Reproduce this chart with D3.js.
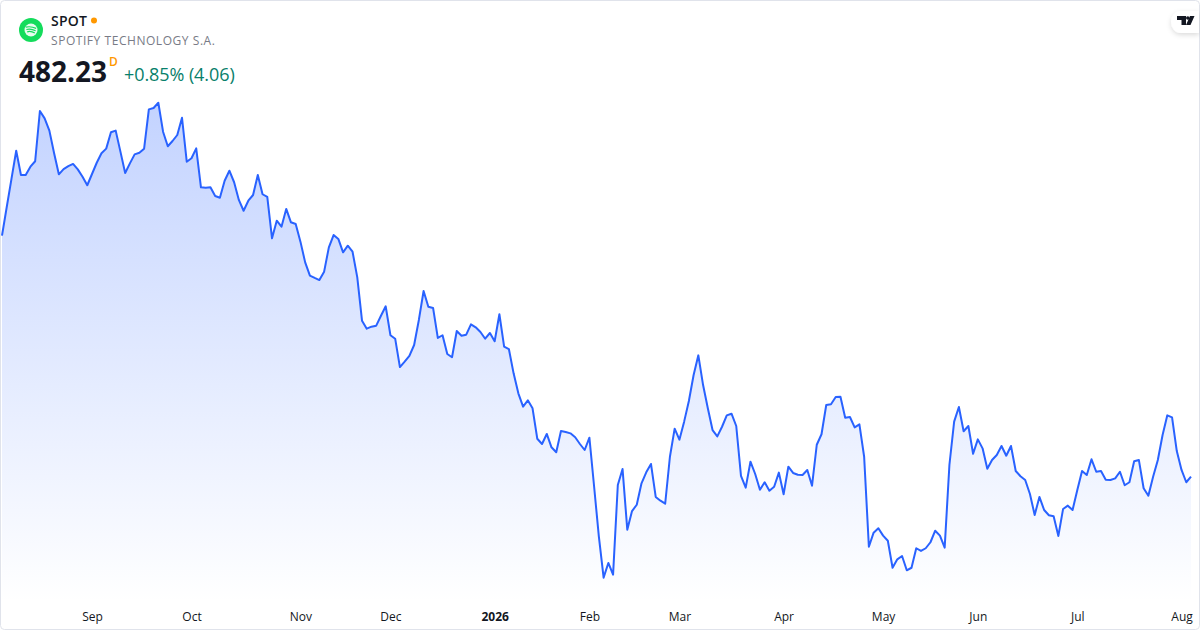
<!DOCTYPE html>
<html>
<head>
<meta charset="utf-8">
<title>SPOT</title>
<script src="https://cdn.jsdelivr.net/npm/d3@7"></script>
<style>
html, body { margin: 0; padding: 0; background: #fff; }
svg { display: block; font-family: "Open Sans", "Noto Sans", sans-serif; }
</style>
</head>
<body>
<script>
var WIDTH = 1200; //size of the screenshot
var HEIGHT = 630;

var SYMBOL = "SPOT";
var COMPANY = "SPOTIFY TECHNOLOGY S.A.";
var LAST = "482.23";
var INTERVAL = "D";
var CHANGE = "+0.85% (4.06)";

//daily closes, one per trading day
var closes = [
  642.9, 662, 680.7, 699.5, 683.3, 683.3, 688.9, 692.5, 726, 721.1,
  712.9, 697.8, 683.8, 687.3, 689.3, 690.7, 687.1, 682.2, 676.5, 684,
  691.5, 697.8, 700.9, 711.8, 712.9, 698.9, 684.7, 691.1, 697.1, 698.2,
  700.9, 727.1, 728, 731.5, 712.2, 702.5, 706, 710, 721.5, 692.2,
  694.5, 701.1, 675.1, 674.9, 675.1, 669.3, 668.2, 679.5, 686.2, 678.5,
  666.7, 659.5, 666.2, 670, 683.3, 670.5, 668.7, 641.1, 652.9, 648.9,
  660.7, 651.8, 650.7, 638.9, 625.1, 616.2, 614.7, 613.3, 618.9, 635.1,
  643.3, 640.7, 631.8, 636.2, 632.2, 615.1, 586.2, 580.9, 582.2, 582.9,
  589.5, 595.8, 576.5, 574.2, 555.3, 558.9, 562.7, 570, 586.7, 606,
  595.5, 594.7, 574.7, 576.5, 564, 561.8, 579.3, 576.2, 576.9, 583.8,
  581.8, 578.7, 574.2, 578, 572.5, 590.5, 568.9, 567.3, 551.1, 537.8,
  528.9, 533.1, 527.8, 507.5, 504, 510.7, 501.8, 498.5, 512.7, 512,
  511.1, 508.5, 504, 500, 508.2, 475.5, 442.2, 414.9, 424.7, 416.9,
  476.7, 487.3, 446.9, 459.3, 463.5, 477.8, 485.1, 490.7, 468.7, 466.2,
  464.2, 495.5, 514.2, 506.9, 518.9, 532.7, 550, 563.1, 543.3, 527.8,
  513.3, 509.1, 515.5, 523.1, 524.2, 516, 482.7, 474.9, 492.2, 484,
  473.5, 478.5, 472.9, 475.5, 484.9, 470.5, 488.9, 484.7, 483.5, 483.3,
  486.7, 476.2, 503.5, 510.5, 530, 530.5, 535.3, 535.5, 521.5, 522,
  515.1, 517.1, 495.5, 435.5, 444.9, 447.8, 442.9, 439.5, 421.5, 427.1,
  429.3, 419.8, 421.5, 434.5, 432.7, 434.5, 438.5, 446.2, 442.9, 434.9,
  490, 518.9, 528.7, 512.5, 516, 497.5, 507.1, 501.1, 487.5, 493.3,
  496.7, 502.7, 496.2, 502.7, 486, 482.5, 480, 470.7, 456.7, 468.7,
  460, 456.5, 455.8, 442.7, 460.7, 462.9, 460, 473.3, 486, 483.3,
  493.8, 485.5, 486, 480.2, 480, 481.1, 485.5, 476.5, 478.5, 492.5,
  493.3, 474.5, 469.5, 482.2, 493.3, 510, 523.1, 521.8, 499.3, 486.7,
  478.5, 482.23
];

//month labels and the trading day they sit on
var tickLabels = ["Sep", "Oct", "Nov", "Dec", "2026", "Feb", "Mar", "Apr", "May", "Jun", "Jul", "Aug"];
var tickDays = [19, 40, 63, 82, 104, 124, 143, 165, 186, 206, 227, 249];

var svg = d3.select("body").append("svg")
    .attr("width", WIDTH)
    .attr("height", HEIGHT);

var x = d3.scaleLinear().domain([0, closes.length - 1]).range([2, 1191]);
var y = d3.scaleLinear().domain([800, 400]).range([0, 600]);

//area fade
var grad = svg.append("defs").append("linearGradient")
    .attr("id", "fade")
    .attr("gradientUnits", "userSpaceOnUse")
    .attr("x1", 0).attr("x2", 0)
    .attr("y1", y(d3.max(closes))).attr("y2", 602);
grad.append("stop").attr("offset", 0).attr("stop-color", "#2962ff").attr("stop-opacity", 0.28);
grad.append("stop").attr("offset", 1).attr("stop-color", "#2962ff").attr("stop-opacity", 0);

var area = d3.area()
    .x(function(d, i) { return x(i); })
    .y0(602)
    .y1(function(d) { return y(d); });
var line = d3.line()
    .x(function(d, i) { return x(i); })
    .y(function(d) { return y(d); });

svg.append("path").attr("d", area(closes)).attr("fill", "url(#fade)");
svg.append("path").attr("d", line(closes))
    .attr("fill", "none")
    .attr("stroke", "#2962ff")
    .attr("stroke-width", 2)
    .attr("stroke-linejoin", "round");

//time axis, no domain line and no tick marks
var axis = svg.append("g")
    .attr("transform", "translate(0,612)")
    .call(d3.axisBottom(x)
      .tickValues(tickDays)
      .tickSize(0)
      .tickPadding(0)
      .tickFormat(function(d, i) { return tickLabels[i]; }));
axis.select(".domain").remove();
axis.selectAll("text")
    .attr("fill", "#131722")
    .style("font-family", '"Open Sans", sans-serif')
    .style("font-size", "12px")
    .style("font-weight", function(d, i) { return tickLabels[i] == "2026" ? 700 : 400; });

//header
var head = svg.append("g");
head.append("circle").attr("cx", 31).attr("cy", 30).attr("r", 12).attr("fill", "#14dc5c");
head.append("circle").attr("cx", 31).attr("cy", 30).attr("r", 6.5).attr("fill", "#fff").attr("fill-opacity", 0.9);
[[-2.4, 5.2], [0, 4.6], [2.3, 3.8]].forEach(function(a) {
  head.append("path")
      .attr("d", "M" + (31 - a[1]) + "," + (30 + a[0] - 0.5) + "Q31," + (30 + a[0] - 1.6) + " " + (31 + a[1]) + "," + (30 + a[0] + 0.8))
      .attr("fill", "none")
      .attr("stroke", "#14dc5c")
      .attr("stroke-width", 1.2);
});

head.append("text").attr("x", 51).attr("y", 26)
    .attr("fill", "#131722").style("font-size", "14px").style("font-weight", 600).style("letter-spacing", "0.2px")
    .text(SYMBOL);
head.append("circle").attr("cx", 94).attr("cy", 20.5).attr("r", 3).attr("fill", "#ff9800");
head.append("text").attr("x", 51).attr("y", 45)
    .attr("fill", "#787b86").style("font-size", "12px").style("letter-spacing", "0.55px")
    .text(COMPANY);
head.append("text").attr("x", 19).attr("y", 82)
    .attr("fill", "#131722").style("font-size", "28px").style("font-weight", 700)
    .text(LAST);
head.append("text").attr("x", 109).attr("y", 66)
    .attr("fill", "#ff9800").style("font-size", "12px").style("font-weight", 600)
    .text(INTERVAL);
head.append("text").attr("x", 124).attr("y", 81)
    .attr("fill", "#08806b").style("font-size", "18px").style("letter-spacing", "-0.08px")
    .text(CHANGE);

//frame
svg.append("rect")
    .attr("x", 0.5).attr("y", 0.5)
    .attr("width", WIDTH - 1).attr("height", HEIGHT - 1)
    .attr("rx", 4)
    .attr("fill", "none")
    .attr("stroke", "#e0e3eb");

//tradingview badge in the corner
var blur = svg.select("defs").append("filter").attr("id", "soft")
    .attr("x", "-30%").attr("y", "-30%").attr("width", "160%").attr("height", "180%");
blur.append("feDropShadow").attr("dx", 0).attr("dy", 2).attr("stdDeviation", 2.5)
    .attr("flood-color", "#000").attr("flood-opacity", 0.14);
svg.append("path")
    .attr("d", "M1199,11H1181a10,11 0 0 0 0,22H1199Z")
    .attr("fill", "#fff")
    .attr("filter", "url(#soft)");
svg.append("path")
    .attr("d", "M1177,16H1186V25H1181.5V20H1177ZM1190,16H1194.5L1190.5,25H1186Z")
    .attr("fill", "#131722");
svg.append("circle").attr("cx", 1187.8).attr("cy", 18).attr("r", 1.8).attr("fill", "#131722");
</script>
</body>
</html>
